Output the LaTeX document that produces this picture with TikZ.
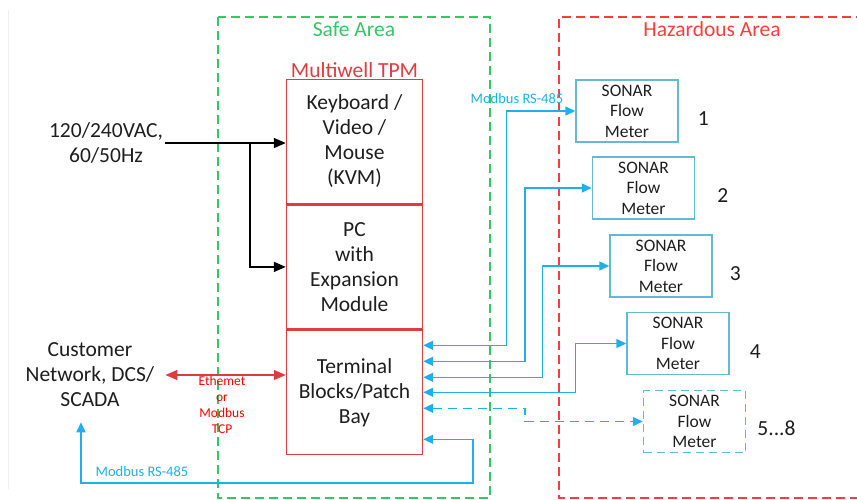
\documentclass[tikz,border=0pt]{standalone}
\usepackage{fontspec}
\setmainfont{Carlito}
\usetikzlibrary{positioning,arrows.meta}
\definecolor{ink}{RGB}{30,30,30}
\definecolor{safegreen}{RGB}{51,200,100}
\definecolor{hazred}{RGB}{255,60,60}
\definecolor{tpmred}{RGB}{222,60,62}
\definecolor{busblue}{RGB}{29,176,236}
\definecolor{sonarbox}{RGB}{100,185,212}

\begin{document}
\begin{tikzpicture}[x=1pt,y=-1pt,
  txt/.style={text=ink,font=\fontsize{21.5}{25}\selectfont,align=center,inner sep=2pt},
  sect/.style={txt,draw=tpmred,line width=1.4pt,minimum width=136pt,minimum height=124pt,inner sep=0pt},
  sonar/.style={draw=sonarbox,line width=1.5pt,minimum width=102pt,minimum height=62pt,inner sep=0pt,
    text=ink,font=\fontsize{17.5}{20.5}\selectfont,align=center},
  small/.style={font=\fontsize{14.5}{16}\selectfont,align=center,inner sep=0pt},
  bus/.style={draw=busblue,line width=1.5pt,{Triangle[length=10pt,width=9pt]}-{Triangle[length=10pt,width=9pt]}},
  area/.style={line width=1.4pt,dash pattern=on 9pt off 5pt}]
  \useasboundingbox (0,0) rectangle (857,499);
  \draw[gray!12] (8,10) -- (8,489);

  % Zonas
  \draw[area,safegreen] (218,17) rectangle (490,498);
  \draw[area,hazred] (865,17) -- (559,17) -- (559,498) -- (865,498);
  \node[txt,text=safegreen] (safe) at (354,29) {Safe Area};
  \node[txt,text=hazred] (haz) at (712,29) {Hazardous Area};

  % Multiwell TPM
  \node[sect] (kvm) at (354.5,141.5) {Keyboard /\\Video /\\Mouse\\(KVM)};
  \node[sect,below=0pt of kvm] (pc) {PC\\with\\Expansion\\Module};
  \node[sect,below=0pt of pc] (tb) {Terminal\\Blocks/Patch\\Bay};
  \node[txt,text=tpmred,inner sep=0pt,above=1pt of kvm] (tpm) {Multiwell TPM};

  % Alimentacion
  \node[txt] (ac) at (106,143) {120/240VAC,\\60/50Hz};
  \draw[line width=1.7pt,-{Triangle[length=12pt,width=10pt]}] (ac.east) -- (ac.east -| kvm.west);
  \draw[line width=1.7pt,-{Triangle[length=12pt,width=10pt]}] ([xshift=-36pt]ac.east -| kvm.west) |- (pc.west);

  % Red del cliente
  \node[txt] (cust) at (90,375) {Customer\\Network, DCS/\\SCADA};
  \draw[tpmred,line width=1.5pt,{Triangle[length=12pt,width=10pt]}-{Triangle[length=12pt,width=10pt]}]
    ([xshift=9pt]cust.east) -- (cust.east -| tb.west);
  \node[small,text=red,font=\fontsize{13.5}{16}\selectfont] (eth) at (222,405) {Ethemet\\or\\Modbus\\TCP};
  \coordinate (rbend) at (473,483);
  \draw[bus] ([yshift=-47pt]tb.east) -| (rbend) -| ([xshift=-9pt,yshift=-13pt]cust.south);
  \node[small,text=busblue] (rs2) at (142,472) {Modbus RS-485};

  % Medidores SONAR
  \foreach \i/\px/\py/\gap in {1/627/111/17, 2/643.5/188/20, 3/661/266/15, 4/678/343.5/18} {
    \node[sonar] (s\i) at (\px,\py) {SONAR\\Flow\\Meter};
    \node[txt,right=\gap pt of s\i,yshift=-8pt] (n\i) {\i};
  }
  \node[sonar,dash pattern=on 8pt off 5pt] (s5) at (694.5,421.5) {SONAR\\Flow\\Meter};
  \node[txt,right=9pt of s5,yshift=-7pt] (n5) {5...8};

  % Enlaces RS-485
  \foreach \i/\dy/\dx in {1/47/69, 2/31/67, 3/15/67, 4/0/51}
    \draw[bus] ([yshift=\dy pt]tb.east) -| ([xshift=-\dx pt]s\i.west) -- (s\i.west);
  \draw[bus,dash pattern=on 9pt off 6pt] ([yshift=-16pt]tb.east) -| ([xshift=-118pt]s5.west) -- (s5.west);
  \node[small,text=busblue] (rs1) at (517,99) {Modbus RS-485};
\end{tikzpicture}
\end{document}
